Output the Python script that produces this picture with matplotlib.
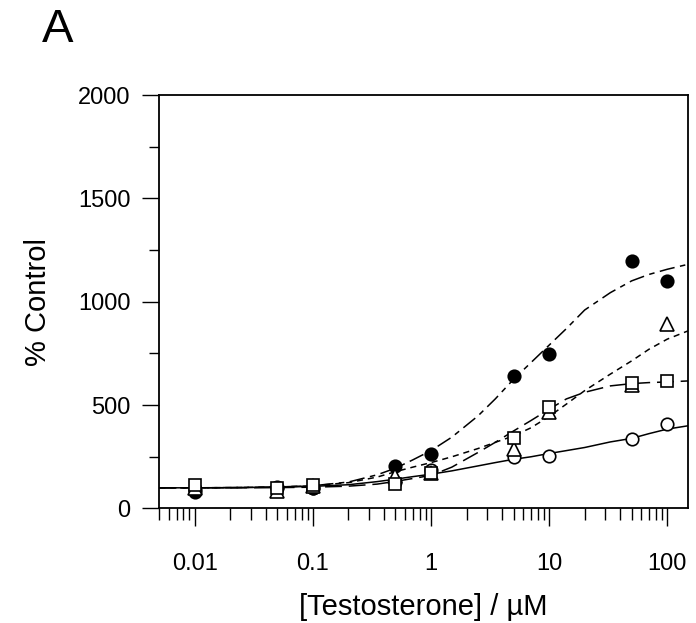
import numpy as np
import matplotlib.pyplot as plt
from matplotlib.ticker import LogLocator, NullFormatter, MultipleLocator

plt.rcParams['font.family'] = ['Liberation Sans', 'DejaVu Sans']

# measured points
conc = [0.01, 0.05, 0.1, 0.5, 1, 5, 10, 50, 100]
pts_filled = [80, 105, 97, 207, 263, 640, 745, 1197, 1100]
pts_triangle = [100, 86, 108, 157, 170, 290, 465, 597, 890]
pts_square = [114, 99, 114, 117, 170, 340, 493, 605, 617]
pts_open = [96, 100, 100, 130, 185, 248, 256, 334, 407]

# fitted curves
curve_x = [0.005, 0.01, 0.02, 0.05, 0.1, 0.2, 0.35, 0.5, 0.7, 1, 1.5, 2.5,
           3.5, 5, 7, 10, 14, 20, 33, 50, 70, 100, 150]
curve_filled = [100, 100, 101, 104, 110, 128, 163, 195, 235, 280, 345, 448,
                530, 625, 705, 790, 870, 960, 1044, 1101, 1132, 1157, 1181]
curve_triangle = [100, 100, 101, 104, 110, 125, 152, 178, 200, 222, 250, 290,
                  320, 351, 390, 445, 505, 570, 650, 714, 770, 819, 859]
curve_square = [100, 100, 100, 101, 103, 108, 118, 131, 145, 160, 200, 271,
                320, 375, 425, 480, 530, 562, 593, 604, 609, 612, 617]
curve_open = [100, 100, 101, 103, 107, 115, 130, 142, 154, 166, 182, 206,
              222, 238, 250, 266, 280, 295, 322, 339, 362, 384, 400]

fig = plt.figure(figsize=(6.96, 6.23), dpi=100)
ax = fig.add_axes([0.2289, 0.1838, 0.9885 - 0.2289, 0.8475 - 0.1838])

lw = 1.1
ax.plot(curve_x, curve_open, color='black', lw=lw, ls='-')
ax.plot(curve_x, curve_filled, color='black', lw=lw, dashes=(10, 3.6, 3.6, 3.6))
ax.plot(curve_x, curve_triangle, color='black', lw=lw, dashes=(4, 3.2))
ax.plot(curve_x, curve_square, color='black', lw=lw, dashes=(11, 4.5))

ms = 9
ax.plot(conc, pts_open, 'o', ms=ms, mfc='white', mec='black', mew=1.2, ls='none')
ax.plot(conc, pts_filled, 'o', ms=ms, mfc='black', mec='black', mew=1.2, ls='none')
ax.plot(conc, pts_triangle, '^', ms=ms + 1, mfc='white', mec='black', mew=1.2, ls='none')
ax.plot(conc, pts_square, 's', ms=ms - 0.5, mfc='white', mec='black', mew=1.2, ls='none')

ax.set_xscale('log')
ax.set_xlim(0.005, 150)
ax.set_ylim(0, 2000)

ax.xaxis.set_minor_locator(LogLocator(base=10, subs=np.arange(2, 10), numticks=20))
ax.xaxis.set_minor_formatter(NullFormatter())
ax.set_xticks([0.01, 0.1, 1, 10, 100])
ax.set_xticklabels(['0.01', '0.1', '1', '10', '100'])
ax.yaxis.set_major_locator(MultipleLocator(500))
ax.yaxis.set_minor_locator(MultipleLocator(250))

for s in ax.spines.values():
    s.set_linewidth(1.3)

ax.tick_params(axis='x', which='major', direction='out', length=13, width=1.0,
               labelsize=17, pad=19)
ax.tick_params(axis='x', which='minor', direction='out', length=8.4, width=1.0)
ax.tick_params(axis='y', which='major', direction='out', length=12, width=1.0,
               labelsize=17, pad=8.6)
ax.tick_params(axis='y', which='minor', direction='out', length=7, width=1.0)

ax.set_xlabel('[Testosterone] / µM', fontsize=21, labelpad=13)
ax.set_ylabel('% Control', fontsize=21, labelpad=19)

fig.text(42 / 696, 1 - 42 / 623, 'A', fontsize=34, ha='left', va='baseline')

fig.savefig('out.png', dpi=100)
